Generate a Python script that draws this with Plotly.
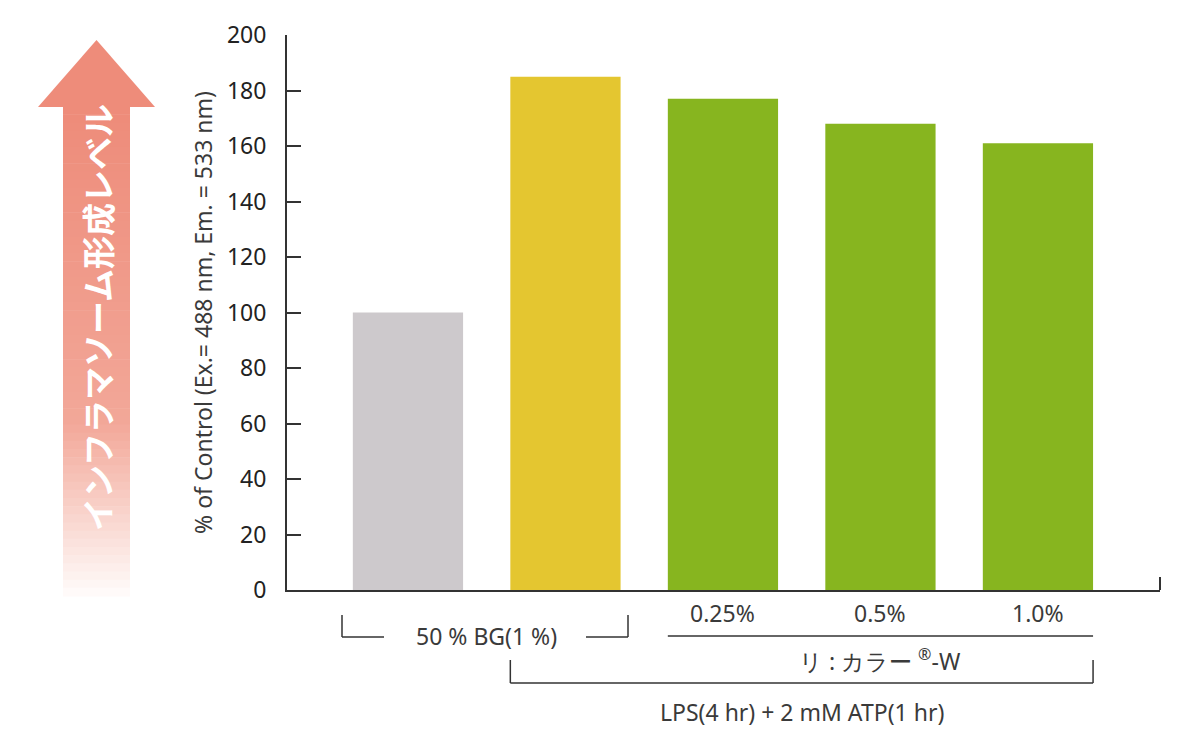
import plotly.graph_objects as go

categories = ["Control", "LPS+ATP", "0.25%", "0.5%", "1.0%"]
values = [100, 185, 177, 168, 161]
bar_colors = ["#cdc9cc", "#e4c630", "#87b51f", "#87b51f", "#87b51f"]
y_ticks = [0, 20, 40, 60, 80, 100, 120, 140, 160, 180, 200]
conc_labels = ["0.25%", "0.5%", "1.0%"]

W, H = 1200, 750
L, R, T, B = 287, 40, 35, 160
PW, PH = W - L - R, H - T - B

def px(x):
    return (x - L) / PW

def py(y):
    return (H - B - y) / PH

FONT = "Noto Sans"
TXT = "#3a3a3a"
LINE = "#333333"
FS = 23

fig = go.Figure()
fig.add_trace(go.Bar(
    x=list(range(len(categories))), y=values, width=0.70,
    marker=dict(color=bar_colors, line=dict(width=0)),
    hovertext=categories, showlegend=False,
))

shapes = []
annotations = []

# arrow (gradient shaft + head)
top_c = (238, 140, 122)
mid_c = (243, 168, 153)
bot_c = (255, 250, 249)
y0, y1 = 106, 596
n = 60
for i in range(n):
    a = y0 + (y1 - y0) * i / n
    b = y0 + (y1 - y0) * (i + 1) / n + 0.6
    t = i / (n - 1)
    if t < 0.65:
        u = t / 0.65
        c = [int(top_c[k] + (mid_c[k] - top_c[k]) * u) for k in range(3)]
    else:
        u = (t - 0.65) / 0.35
        c = [int(mid_c[k] + (bot_c[k] - mid_c[k]) * u) for k in range(3)]
    shapes.append(dict(type="rect", xref="paper", yref="paper",
                       x0=px(63), x1=px(130), y0=py(b), y1=py(a),
                       fillcolor=f"rgb({c[0]},{c[1]},{c[2]})", line=dict(width=0), layer="below"))
shapes.append(dict(type="path", xref="paper", yref="paper",
                   path=f"M {px(38)} {py(107)} L {px(96.5)} {py(40)} L {px(155)} {py(107)} Z",
                   fillcolor="rgb(238,140,122)", line=dict(width=0), layer="below"))
annotations.append(dict(xref="paper", yref="paper", x=px(97), y=py(318),
                        xanchor="center", yanchor="middle",
                        text="<b>インフラマソーム形成レベル</b>", textangle=-90, showarrow=False,
                        font=dict(family="Noto Sans CJK JP", size=33, color="white")))

# right end tick of x axis
shapes.append(dict(type="line", xref="paper", yref="paper", x0=1, x1=1, y0=0, y1=py(577),
                   line=dict(color=LINE, width=2)))

def seg(x0, y0_, x1, y1_, xref="paper"):
    xa = x0 if xref == "x" else px(x0)
    xb = x1 if xref == "x" else px(x1)
    shapes.append(dict(type="line", xref=xref, yref="paper", x0=xa, x1=xb,
                       y0=py(y0_), y1=py(y1_), line=dict(color=LINE, width=1.5)))

def label(x, y, text, xref="x"):
    annotations.append(dict(xref=xref, yref="paper", x=x, y=py(y), text=text,
                            xanchor="center", yanchor="middle", showarrow=False,
                            font=dict(family=FONT, size=FS, color=TXT)))

# 50% BG bracket
seg(342, 615, 342, 637)
seg(342, 637, 384, 637)
seg(586, 637, 628, 637)
seg(628, 615, 628, 637)
label(0.5, 636, "50 % BG(1 %)")

# concentration labels
for i, lab in enumerate(conc_labels):
    label(i + 2, 613, lab)
seg(1.65, 636, 4.35, 636, xref="x")
label(3, 660, "リ : カラー <sup>®</sup>-W")

# LPS bracket
seg(0.65, 660, 0.65, 683, xref="x")
seg(0.65, 683, 4.35, 683, xref="x")
seg(4.35, 660, 4.35, 683, xref="x")
label(2.5, 712, "LPS(4 hr) + 2 mM ATP(1 hr)")

fig.update_layout(
    width=W, height=H,
    margin=dict(l=L, r=R, t=T, b=B),
    plot_bgcolor="white", paper_bgcolor="white",
    shapes=shapes, annotations=annotations,
    xaxis=dict(range=[-0.768, 4.775], showticklabels=False, ticks="",
               showgrid=False, zeroline=False, showline=True,
               linecolor=LINE, linewidth=2),
    yaxis=dict(range=[0, 200], tickvals=y_ticks, ticks="inside", ticklen=14,
               tickwidth=2, tickcolor=LINE, showgrid=False, zeroline=False,
               showline=True, linecolor=LINE, linewidth=2, ticklabelstandoff=14,
               tickfont=dict(family=FONT, size=FS, color="#222"),
               title=dict(text="% of Control (Ex.= 488 nm, Em. = 533 nm)",
                          font=dict(family=FONT, size=23, color=TXT), standoff=8)),
    font=dict(family=FONT),
)

fig.write_html("out.html")
